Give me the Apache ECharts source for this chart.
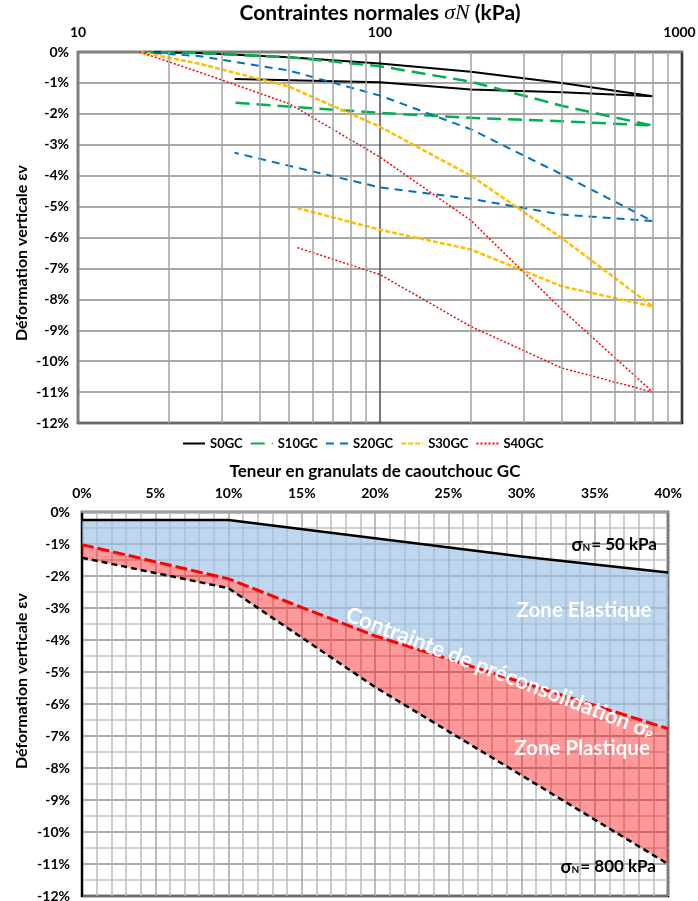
<!DOCTYPE html>
<html><head><meta charset="utf-8">
<script src="https://cdn.jsdelivr.net/npm/echarts@6/dist/echarts.min.js"></script>
<style>html,body{margin:0;padding:0;background:#fff}#c{width:698px;height:901px}</style>
</head><body><div id="c"></div>
<script>
// ---------- Top chart data (stress in kPa, strain in %) ----------
const stressLoad = [16, 25, 50, 100, 200, 400, 800];
const stressUnloadA = [400, 200, 100, 33];   // S0GC, S10GC, S20GC
const stressUnloadB = [400, 200, 100, 53];   // S30GC, S40GC
const minorStress = [20, 30, 40, 50, 60, 70, 80, 90, 200, 300, 400, 500, 600, 700, 800, 900];

const s0Load   = [0, -0.03, -0.17, -0.37, -0.64, -1.00, -1.43];
const s0Unload = [-1.30, -1.21, -0.98, -0.87];
const s10Load   = [0, -0.03, -0.17, -0.46, -0.96, -1.74, -2.38];
const s10Unload = [-2.24, -2.13, -1.97, -1.64];
const s20Load   = [0, -0.13, -0.60, -1.41, -2.50, -3.96, -5.47];
const s20Unload = [-5.26, -4.75, -4.38, -3.26];
const s30Load   = [0, -0.37, -1.12, -2.42, -4.00, -6.02, -8.23];
const s30Unload = [-7.58, -6.39, -5.75, -5.04];
const s40Load   = [0, -0.64, -1.67, -3.40, -5.45, -8.33, -11.00];
const s40Unload = [-10.22, -8.88, -7.20, -6.32];

// ---------- Bottom chart data (GC in %, strain in %) ----------
const gcContent     = [0, 10, 20, 30, 40];
const strain50kPa   = [-0.25, -0.25, -0.82, -1.39, -1.89];
const strainPrecons = [-1.02, -2.09, -3.87, -5.32, -6.77];
const strain800kPa  = [-1.43, -2.38, -5.47, -8.23, -11.00];

const FONT = 'Lato, "Open Sans", sans-serif';

function path(load, unloadStress, unload) {
  return stressLoad.map((s, i) => [s, load[i]])
    .concat(unloadStress.map((s, i) => [s, unload[i]]));
}
function pairs(xs, ys) { return xs.map((x, i) => [x, ys[i]]); }

const chart = echarts.init(document.getElementById('c'), null, {renderer: 'canvas'});

const lineBase = {type: 'line', xAxisIndex: 0, yAxisIndex: 0, symbol: 'none', smooth: false, z: 3};
const tickFont = {fontFamily: FONT, fontWeight: 'bold', fontSize: 14, color: '#000'};

const option = {
  animation: false,
  textStyle: {fontFamily: FONT},
  grid: [
    {left: 78, top: 52, width: 604, height: 371, show: true, borderColor: '#000', borderWidth: 2.5, backgroundColor: '#fff',
     containLabel: false, outerBoundsMode: 'none'},
    {left: 82, top: 512, width: 586, height: 384, show: true, borderColor: '#000', borderWidth: 2.5, backgroundColor: '#fff',
     containLabel: false, outerBoundsMode: 'none'}
  ],
  legend: {
    top: 432, left: 177, itemWidth: 22, itemHeight: 10, itemGap: 7,
    itemStyle: {opacity: 0},
    textStyle: {fontFamily: FONT, fontWeight: 'bold', fontSize: 13, color: '#000'},
    data: ['S0GC', 'S10GC', 'S20GC', 'S30GC', 'S40GC']
  },
  xAxis: [
    {
      gridIndex: 0, type: 'log', logBase: 10, min: 10, max: 1000, position: 'top',
      name: '{n|Contraintes normales }{i|σN}{n| (kPa)}', nameLocation: 'middle', nameGap: 27,
      nameTextStyle: {rich: {
        n: {fontFamily: FONT, fontWeight: 'bold', fontSize: 21, color: '#000'},
        i: {fontFamily: '"Liberation Serif", serif', fontStyle: 'italic', fontSize: 22, color: '#000'}
      }},
      axisLine: {show: true, onZero: false, lineStyle: {color: '#7f7f7f', width: 2}},
      axisTick: {show: false},
      axisLabel: Object.assign({margin: 13,
        formatter: v => Math.round(v) === 1000 ? '{m|1000}' : String(Math.round(v)),
        rich: {m: {fontFamily: FONT, fontWeight: 'bold', fontSize: 14, color: '#000', padding: [0, 5, 0, 0]}}}, tickFont),
      splitLine: {show: true, lineStyle: {color: '#4d4d4d', width: 1.5}},
      minorSplitLine: {show: false}
    },
    {
      gridIndex: 1, type: 'value', min: 0, max: 40, interval: 5, position: 'top',
      name: 'Teneur en granulats de caoutchouc GC', nameLocation: 'middle', nameGap: 32,
      nameTextStyle: {fontFamily: FONT, fontWeight: 'bold', fontSize: 17, color: '#000'},
      axisLine: {show: true, onZero: false, lineStyle: {color: '#a0a0a0', width: 2}},
      axisTick: {show: false},
      axisLabel: Object.assign({margin: 12, formatter: '{value}%'}, tickFont),
      splitLine: {show: true, lineStyle: {color: '#a6a6a6', width: 1.5}},
      minorTick: {show: false, splitNumber: 5},
      minorSplitLine: {show: true, lineStyle: {color: '#bdbdbd', width: 1.5}}
    },
    // hidden category axis used only to stack the zone areas
    {
      gridIndex: 1, type: 'category', data: gcContent.map(String), boundaryGap: false, show: false
    }
  ],
  yAxis: [
    {
      gridIndex: 0, type: 'value', min: -12, max: 0, interval: 1,
      axisLine: {show: true, onZero: false, lineStyle: {color: '#7f7f7f', width: 2}},
      axisTick: {show: false},
      axisLabel: Object.assign({margin: 9, formatter: '{value}%'}, tickFont),
      splitLine: {show: true, lineStyle: {color: '#8c8c8c', width: 1.5}}
    },
    {
      gridIndex: 1, type: 'value', min: -12, max: 0, interval: 1,
      axisLine: {show: true, onZero: false, lineStyle: {color: '#000', width: 2}},
      axisTick: {show: false},
      axisLabel: Object.assign({margin: 12, formatter: '{value}%', padding: [0, 0, 4, 0]}, tickFont),
      splitLine: {show: true, lineStyle: {color: '#8f8f8f', width: 1.5}},
      minorTick: {show: false, splitNumber: 2},
      minorSplitLine: {show: true, lineStyle: {color: '#c2c2c2', width: 1.5}}
    }
  ],
  series: [
    // minor log gridlines (drawn through the log axis)
    {type: 'line', xAxisIndex: 0, yAxisIndex: 0, data: [], silent: true, z: 1,
     markLine: {silent: true, symbol: 'none', animation: false, label: {show: false},
       lineStyle: {color: '#a3a3a3', type: 'solid', width: 1.5},
       data: minorStress.map(v => ({xAxis: v}))}},
    Object.assign({}, lineBase, {name: 'S0GC', data: path(s0Load, stressUnloadA, s0Unload),
      lineStyle: {color: '#000000', width: 2, type: 'solid'}, itemStyle: {color: '#000000'}}),
    Object.assign({}, lineBase, {name: 'S10GC', data: path(s10Load, stressUnloadA, s10Unload),
      lineStyle: {color: '#00B050', width: 2.5, type: [14, 7]}, itemStyle: {color: '#00B050'}}),
    Object.assign({}, lineBase, {name: 'S20GC', data: path(s20Load, stressUnloadA, s20Unload),
      lineStyle: {color: '#0070C0', width: 2, type: [8, 6]}, itemStyle: {color: '#0070C0'}}),
    Object.assign({}, lineBase, {name: 'S30GC', data: path(s30Load, stressUnloadB, s30Unload),
      lineStyle: {color: '#FFC000', width: 2.5, type: [5, 2]}, itemStyle: {color: '#FFC000'}}),
    Object.assign({}, lineBase, {name: 'S40GC', data: path(s40Load, stressUnloadB, s40Unload),
      lineStyle: {color: '#FF0000', width: 1.5, type: [2, 2]}, itemStyle: {color: '#FF0000'}}),

    // ---- bottom chart: stacked zone areas (on the hidden category axis) ----
    {type: 'line', xAxisIndex: 2, yAxisIndex: 1, stack: 'zone', stackStrategy: 'all', symbol: 'none', z: 2,
     data: strain800kPa.slice(), lineStyle: {width: 0, opacity: 0}, silent: true},
    {type: 'line', xAxisIndex: 2, yAxisIndex: 1, stack: 'zone', stackStrategy: 'all', symbol: 'none', z: 2,
     data: strainPrecons.map((v, i) => v - strain800kPa[i]),
     lineStyle: {width: 0, opacity: 0}, areaStyle: {color: 'rgba(255,0,0,0.4)', opacity: 1}, silent: true},
    {type: 'line', xAxisIndex: 2, yAxisIndex: 1, stack: 'zone', stackStrategy: 'all', symbol: 'none', z: 2,
     data: strain50kPa.map((v, i) => v - strainPrecons[i]),
     lineStyle: {width: 0, opacity: 0}, areaStyle: {color: 'rgba(157,195,230,0.66)', opacity: 1}, silent: true},
    // ---- bottom chart: visible lines ----
    {type: 'line', xAxisIndex: 1, yAxisIndex: 1, symbol: 'none', z: 4, data: pairs(gcContent, strain50kPa),
     lineStyle: {color: '#000', width: 2.5, type: 'solid'}},
    {type: 'line', xAxisIndex: 1, yAxisIndex: 1, symbol: 'none', z: 4, data: pairs(gcContent, strainPrecons),
     lineStyle: {color: '#FF0000', width: 3, type: [12, 4]}},
    {type: 'line', xAxisIndex: 1, yAxisIndex: 1, symbol: 'none', z: 4, data: pairs(gcContent, strain800kPa),
     lineStyle: {color: '#000', width: 2.5, type: [6, 4]}}
  ],
  graphic: [
    {type: 'text', x: 22, y: 253, rotation: Math.PI / 2, z: 10,
     style: {text: 'Déformation verticale εv', fontFamily: FONT, fontWeight: 'bold', fontSize: 16, fill: '#000', align: 'center', verticalAlign: 'middle'}},
    {type: 'text', x: 22, y: 681, rotation: Math.PI / 2, z: 10,
     style: {text: 'Déformation verticale εv', fontFamily: FONT, fontWeight: 'bold', fontSize: 16, fill: '#000', align: 'center', verticalAlign: 'middle'}},
    {type: 'text', x: 657, y: 545, z: 10,
     style: {text: '{s|σ}{n|N}{t|= 50 kPa}', align: 'right', verticalAlign: 'middle',
       rich: {s: {fontFamily: FONT, fontWeight: 'bold', fontSize: 18, fill: '#000'},
              n: {fontFamily: FONT, fontWeight: 'bold', fontSize: 10, fill: '#000', padding: [6, 1, 0, 0]},
              t: {fontFamily: FONT, fontWeight: 'bold', fontSize: 17, fill: '#000'}}}},
    {type: 'text', x: 656, y: 867, z: 10,
     style: {text: '{s|σ}{n|N}{t|= 800 kPa}', align: 'right', verticalAlign: 'middle',
       rich: {s: {fontFamily: FONT, fontWeight: 'bold', fontSize: 18, fill: '#000'},
              n: {fontFamily: FONT, fontWeight: 'bold', fontSize: 10, fill: '#000', padding: [6, 1, 0, 0]},
              t: {fontFamily: FONT, fontWeight: 'bold', fontSize: 17, fill: '#000'}}}},
    {type: 'text', x: 584, y: 610, z: 10,
     style: {text: 'Zone Elastique', fontFamily: FONT, fontWeight: 'bold', fontSize: 20.5, fill: '#fff', align: 'center', verticalAlign: 'middle'}},
    {type: 'text', x: 582, y: 748, z: 10,
     style: {text: 'Zone Plastique', fontFamily: FONT, fontWeight: 'bold', fontSize: 20.5, fill: '#fff', align: 'center', verticalAlign: 'middle'}},
    {type: 'text', x: 500, y: 673, rotation: -0.37, z: 10,
     style: {text: '{a|Contrainte de préconsolidation σ}{b|P}', align: 'center', verticalAlign: 'middle',
       rich: {a: {fontFamily: FONT, fontWeight: 'bold', fontSize: 22, fill: '#fff'},
              b: {fontFamily: FONT, fontWeight: 'bold', fontSize: 11, fill: '#fff', padding: [8, 0, 0, 0]}}}}
  ]
};
chart.setOption(option);
</script>
</body></html>
